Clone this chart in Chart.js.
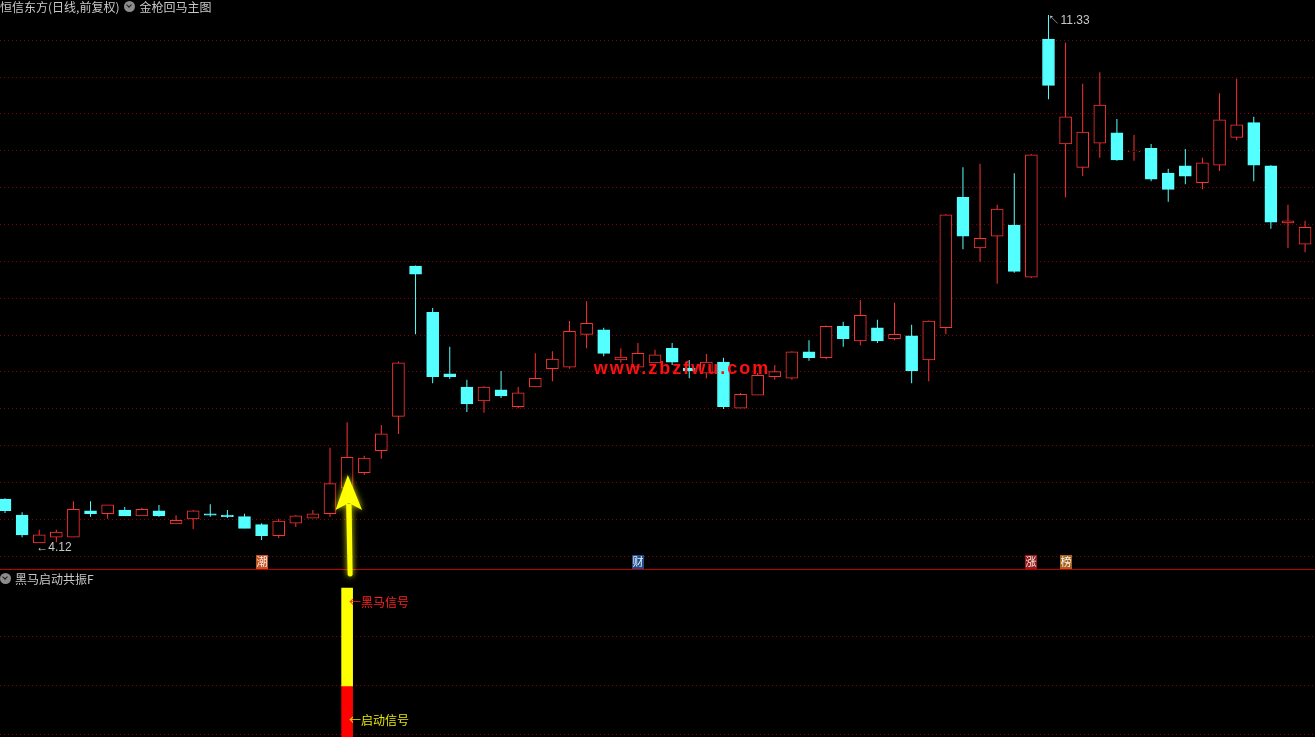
<!DOCTYPE html>
<html lang="zh">
<head>
<meta charset="utf-8">
<title>恒信东方 金枪回马主图</title>
<script src="https://cdn.jsdelivr.net/npm/chart.js@4.4.1/dist/chart.umd.min.js"></script>
<style>
    html, body { margin: 0; padding: 0; background: #000; overflow: hidden; }
    #stage { position: relative; width: 1315px; height: 737px; background: #000; }
    #mainChart { position: absolute; left: 0; top: 0; }
    #sep { position: absolute; left: 0; top: 569px; width: 1315px; height: 1px; background: #c00000; }
    #subChart { position: absolute; left: 0; top: 570px; }
    #overlay { position: absolute; left: 0; top: 0; pointer-events: none; }
    .title {
        position: absolute; left: 0; z-index: 2;
        font: 12px "Noto Sans CJK SC", sans-serif; color: #c8c8c8;
        line-height: 13px; white-space: nowrap;
        display: flex; align-items: center;
    }
    .dot {
        display: inline-block; position: relative;
        width: 11px; height: 11px; border-radius: 50%;
        background: #8c8c8c; margin: 0 4px 0 5px;
    }
    .dot::after {
        content: ''; position: absolute; left: 3px; top: 2px;
        width: 3px; height: 3px;
        border-right: 1.5px solid #1a1a1a; border-bottom: 1.5px solid #1a1a1a;
        transform: rotate(45deg);
    }
    #subTitle { top: 572px; }
    #subTitle .dot { margin-left: 0; }
</style>
</head>
<body>
<div id="stage">
    <canvas id="mainChart" width="1315" height="569"></canvas>
    <div id="sep"></div>
    <canvas id="subChart" width="1315" height="167"></canvas>
    <canvas id="overlay" width="1315" height="737"></canvas>
    <div class="title" id="mainTitle">恒信东方(日线,前复权)<span class="dot"></span>金枪回马主图</div>
    <div class="title" id="subTitle"><span class="dot"></span>黑马启动共振F</div>
</div>
<script>
// daily candles
const opens  = [4.72, 4.50, 4.12, 4.20, 4.20, 4.56, 4.52, 4.57, 4.49, 4.56, 4.38, 4.45, 4.52, 4.50, 4.48, 4.37, 4.22, 4.39, 4.46, 4.52,
                4.87, 5.08, 5.38, 5.85, 7.90, 7.27, 6.43, 6.25, 6.06, 6.21, 5.98, 6.25, 6.50, 6.52, 6.97, 7.03, 6.62, 6.52, 6.58, 6.78,
                6.51, 6.44, 6.59, 5.96, 6.14, 6.39, 6.37, 6.73, 6.65, 7.08, 6.88, 7.06, 6.91, 6.95, 6.62, 7.06, 8.84, 8.15, 8.31, 8.46,
                7.75, 11.00, 9.57, 9.25, 9.58, 9.72, 9.46, 9.51, 9.17, 9.27, 9.04, 9.28, 9.66, 9.86, 9.27, 8.49, 8.20];
const highs  = [4.73, 4.54, 4.30, 4.30, 4.69, 4.69, 4.64, 4.61, 4.60, 4.64, 4.50, 4.57, 4.65, 4.57, 4.52, 4.39, 4.45, 4.50, 4.57, 5.42,
                5.77, 5.31, 5.73, 6.60, 7.91, 7.33, 6.80, 6.35, 6.26, 6.47, 6.25, 6.71, 6.74, 7.15, 7.42, 7.06, 6.78, 6.85, 6.76, 6.85,
                6.62, 6.70, 6.65, 6.17, 6.44, 6.55, 6.74, 6.89, 7.09, 7.14, 7.44, 7.17, 7.40, 7.10, 7.16, 8.61, 9.25, 9.30, 8.74, 9.17,
                9.43, 11.33, 10.95, 10.39, 10.55, 9.91, 9.69, 9.57, 9.23, 9.50, 9.38, 10.26, 10.46, 9.94, 9.28, 8.74, 8.52];
const lows   = [4.53, 4.20, 4.12, 4.13, 4.20, 4.48, 4.45, 4.49, 4.49, 4.48, 4.38, 4.31, 4.48, 4.46, 4.32, 4.16, 4.19, 4.34, 4.46, 4.48,
                4.85, 5.05, 5.27, 5.61, 6.97, 6.30, 6.36, 5.91, 5.90, 6.10, 5.96, 6.25, 6.33, 6.50, 6.78, 6.67, 6.58, 6.48, 6.58, 6.55,
                6.37, 6.37, 5.95, 5.96, 6.14, 6.35, 6.35, 6.61, 6.63, 6.80, 6.82, 6.85, 6.89, 6.30, 6.33, 6.97, 8.13, 7.96, 7.66, 7.81,
                7.74, 10.18, 8.84, 9.13, 9.38, 9.34, 9.34, 9.06, 8.78, 9.02, 8.95, 9.20, 9.62, 9.06, 8.41, 8.15, 8.09];
const closes = [4.56, 4.23, 4.23, 4.27, 4.58, 4.52, 4.64, 4.49, 4.58, 4.49, 4.43, 4.56, 4.50, 4.48, 4.32, 4.22, 4.42, 4.49, 4.52, 4.93,
                5.29, 5.28, 5.61, 6.58, 7.79, 6.39, 6.39, 6.02, 6.25, 6.13, 6.17, 6.37, 6.63, 7.01, 7.12, 6.71, 6.66, 6.71, 6.69, 6.59,
                6.47, 6.59, 5.98, 6.15, 6.41, 6.46, 6.73, 6.65, 7.08, 6.91, 7.23, 6.88, 6.97, 6.47, 7.15, 8.60, 8.31, 8.28, 8.68, 7.83,
                9.42, 10.37, 9.94, 9.73, 10.10, 9.35, 9.47, 9.09, 8.95, 9.13, 9.31, 9.90, 9.83, 9.28, 8.50, 8.52, 8.43];

// price axis range and the evenly spaced dotted grid
const priceMin = 3.765, priceMax = 11.535;
const gridStart = 3.94, gridStep = 0.5033, gridCount = 15;

// event tags at the bottom of the main panel
const markerIdx   = [15, 37, 60, 62];
const markerText  = ['潮', '财', '涨', '榜'];
const markerColor = ['#c4531f', '#1d4e8c', '#9a1a1a', '#a8621c'];

// indicator panel: one signal day
const signalIdx = 20;
const hmRange = [1, 3];      // 黑马信号 (yellow)
const qdRange = [-1, 1];     // 启动信号 (red)
const subGrid = [0, 1, 2];
const subLabelText  = ['←黑马信号', '←启动信号'];
const subLabelValue = [2.7, 0.3];

const RED = '#ff3232';
const CYAN = '#54ffff';
const GRID = '#8a0000';
const xMin = -0.292, xMax = 76.58;

const gridPrices = [];
for (let k = 0; k < gridCount; k++) gridPrices.push(gridStart + k * gridStep);

const isUp = opens.map((o, i) => closes[i] >= o);
const bodyFill = isUp.map(u => u ? '#000000' : CYAN);
const edgeColor = isUp.map(u => u ? RED : CYAN);

const xScale = { type: 'linear', min: xMin, max: xMax, offset: false, display: false };

// labels, tags and watermark over the candles
const mainDecor = {
    id: 'mainDecor',
    afterDatasetsDraw(chart) {
        const { ctx, chartArea } = chart;
        const x = chart.scales.x, y = chart.scales.y;
        ctx.save();

        const lowIdx = lows.indexOf(Math.min(...lows));
        const highIdx = highs.indexOf(Math.max(...highs));
        ctx.font = '12px "Liberation Sans", Arial, sans-serif';
        ctx.fillStyle = '#c8c8c8';
        ctx.textBaseline = 'middle';
        ctx.textAlign = 'left';
        ctx.fillText('←' + lows[lowIdx].toFixed(2), x.getPixelForValue(lowIdx) - 3, y.getPixelForValue(lows[lowIdx]) + 5);
        ctx.fillText('↖' + highs[highIdx].toFixed(2), x.getPixelForValue(highIdx), y.getPixelForValue(highs[highIdx]) + 6);

        ctx.font = '11px "Noto Sans CJK SC", sans-serif';
        ctx.textAlign = 'center';
        markerIdx.forEach((idx, k) => {
            const cx = Math.round(x.getPixelForValue(idx));
            ctx.fillStyle = markerColor[k];
            ctx.fillRect(cx - 6, chartArea.bottom - 14, 12, 14);
            ctx.fillStyle = '#f2f2f2';
            ctx.fillText(markerText[k], cx, chartArea.bottom - 7);
        });

        // watermark
        ctx.font = 'bold 18px "Liberation Sans", Arial, sans-serif';
        ctx.letterSpacing = '2px';
        ctx.fillStyle = '#ff1010';
        ctx.fillText('www.zbzfwu.com', 682, 369);
        ctx.restore();
    }
};

const mainChart = new Chart(document.getElementById('mainChart'), {
    type: 'bar',
    data: {
        datasets: [
            {
                label: 'body',
                data: opens.map((o, i) => ({ x: i, y: [o, closes[i]] })),
                backgroundColor: bodyFill,
                borderColor: edgeColor,
                borderWidth: 1,
                borderSkipped: false,
                barThickness: 12,
                grouped: false
            },
            {
                label: 'wick',
                data: highs.map((h, i) => ({ x: i, y: [lows[i], h] })),
                backgroundColor: edgeColor,
                borderWidth: 0,
                barThickness: 1,
                inflateAmount: 0,
                grouped: false
            }
        ]
    },
    options: {
        responsive: false,
        animation: false,
        events: [],
        layout: { padding: 0 },
        plugins: { legend: { display: false }, tooltip: { enabled: false } },
        scales: {
            x: xScale,
            y: {
                min: priceMin,
                max: priceMax,
                ticks: { display: false },
                grid: { color: GRID, drawTicks: false },
                border: { display: false, dash: [1, 3] },
                afterBuildTicks: s => { s.ticks = gridPrices.map(v => ({ value: v })); },
                afterFit: s => { s.width = 0; }
            }
        }
    },
    plugins: [mainDecor]
});

const subDecor = {
    id: 'subDecor',
    afterDatasetsDraw(chart) {
        const { ctx } = chart;
        const x = chart.scales.x, y = chart.scales.y;
        const cx = x.getPixelForValue(signalIdx);
        ctx.save();
        ctx.font = '12px "Noto Sans CJK SC", sans-serif';
        ctx.textBaseline = 'middle';
        ctx.textAlign = 'left';
        ctx.fillStyle = '#ff2020';
        ctx.fillText(subLabelText[0], cx + 2, y.getPixelForValue(subLabelValue[0]));
        ctx.fillStyle = '#e8e800';
        ctx.fillText(subLabelText[1], cx + 2, y.getPixelForValue(subLabelValue[1]));
        ctx.restore();
    }
};

const subChart = new Chart(document.getElementById('subChart'), {
    type: 'bar',
    data: {
        datasets: [
            {
                label: '黑马信号',
                data: [{ x: signalIdx, y: hmRange }],
                backgroundColor: '#ffff00',
                borderWidth: 0,
                barThickness: 11,
                grouped: false
            },
            {
                label: '启动信号',
                data: [{ x: signalIdx, y: qdRange }],
                backgroundColor: '#ff0000',
                borderWidth: 0,
                barThickness: 11,
                grouped: false
            }
        ]
    },
    options: {
        responsive: false,
        animation: false,
        events: [],
        layout: { padding: 0 },
        plugins: { legend: { display: false }, tooltip: { enabled: false } },
        scales: {
            x: xScale,
            y: {
                min: -0.041,
                max: 3.367,
                ticks: { display: false },
                grid: { color: GRID, drawTicks: false },
                border: { display: false, dash: [1, 3] },
                afterBuildTicks: s => { s.ticks = subGrid.map(v => ({ value: v })); },
                afterFit: s => { s.width = 0; }
            }
        }
    },
    plugins: [subDecor]
});

// yellow pointer arrow from the indicator bar up to the signal candle
const ov = document.getElementById('overlay').getContext('2d');
const ax = mainChart.scales.x.getPixelForValue(signalIdx);
const tipY = 475, baseY = 510, tailY = 577;
ov.save();
ov.shadowColor = 'rgba(255,255,0,0.85)';
ov.shadowBlur = 6;
ov.fillStyle = '#ffff00';
ov.beginPath();
ov.moveTo(ax - 1, baseY - 6);
ov.lineTo(ax + 4.5, baseY - 6);
ov.lineTo(ax + 5.5, tailY - 2);
ov.quadraticCurveTo(ax + 3, tailY + 1, ax + 0.5, tailY - 2);
ov.closePath();
ov.fill();
ov.beginPath();
ov.moveTo(ax + 0.7, tipY);
ov.lineTo(ax + 15, baseY);
ov.lineTo(ax + 1.7, baseY - 7);
ov.lineTo(ax - 11.6, baseY);
ov.closePath();
ov.fill();
ov.restore();
</script>
</body>
</html>
